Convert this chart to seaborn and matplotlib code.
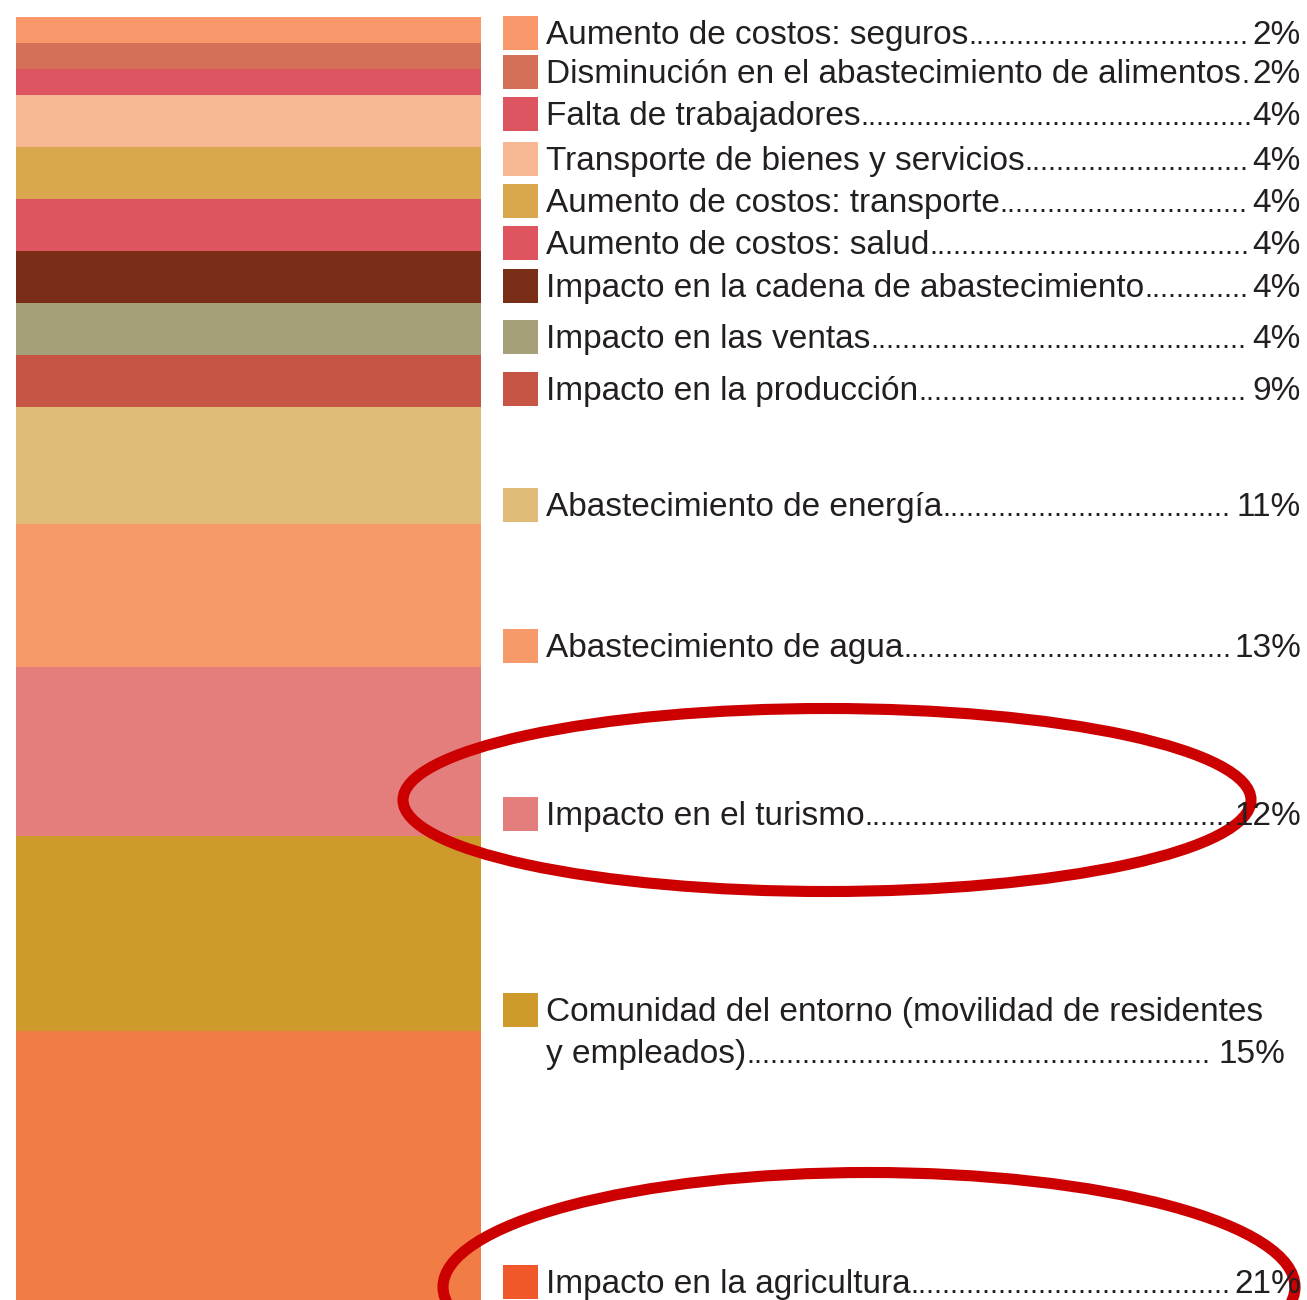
import numpy as np
import matplotlib
matplotlib.use("Agg")
from matplotlib import pyplot as plt
from matplotlib.patches import Rectangle, Ellipse
import seaborn as sns

sns.set_theme(style="white")
plt.rcParams['font.family'] = ['Liberation Sans', 'DejaVu Sans']

# 数据：从上到下的各段
labels = [
    "Aumento de costos: seguros",
    "Disminución en el abastecimiento de alimentos",
    "Falta de trabajadores",
    "Transporte de bienes y servicios",
    "Aumento de costos: transporte",
    "Aumento de costos: salud",
    "Impacto en la cadena de abastecimiento",
    "Impacto en las ventas",
    "Impacto en la producción",
    "Abastecimiento de energía",
    "Abastecimiento de agua",
    "Impacto en el turismo",
    "Comunidad del entorno (movilidad de residentes\ny empleados)",
    "Impacto en la agricultura",
]
pct_labels = ["2%", "2%", "4%", "4%", "4%", "4%", "4%", "4%", "9%",
              "11%", "13%", "12%", "15%", "21%"]
bar_values = [2, 2, 2, 4, 4, 4, 4, 4, 4, 9, 11, 13, 15, 21]
colors = ["#F7976A", "#D46F58", "#DD5560", "#F9B894", "#D9A84E", "#DE5560",
          "#7A2E17", "#A59F7A", "#C65546", "#E0BC78", "#F79A6A", "#E37E7C",
          "#CE9A2B", "#F27C45"]
legend_colors = colors[:-1] + ["#F0582A"]

# 版面（像素）
W, H = 1307, 1300
row_y = [33, 72, 114, 159, 201, 243, 286, 337, 389, 505, 646, 814, 1010, 1282]
line_gap = 42
text_x = 546
pct_right = 1301
fs = 24
text_color = "#231F20"

fig = plt.figure(figsize=(W / 100, H / 100), dpi=100)
fig.patch.set_facecolor("white")

# 堆叠柱：从最大累计值开始叠画
ax = fig.add_axes([16 / W, 0, (481 - 16) / W, (H - 17) / H])
cum = np.cumsum(bar_values)
for i in reversed(range(len(bar_values))):
    sns.barplot(x=["bar"], y=[cum[i]], color=colors[i], saturation=1,
                width=1.0, linewidth=0, ax=ax)
ax.set_xlim(-0.5, 0.5)
ax.set_ylim(cum[-1] - 0.3, 0)
ax.axis("off")

# 图例 + 点线
ov = fig.add_axes([0, 0, 1, 1])
ov.set_xlim(0, W)
ov.set_ylim(H, 0)
ov.axis("off")

renderer = fig.canvas.get_renderer()
dot_fs = fs * 0.85
dot_t = ov.text(0, -100, "." * 20, fontsize=dot_fs)
dot_w = dot_t.get_window_extent(renderer).width / 20
dot_t.remove()

for lab, pct, c, y in zip(labels, pct_labels, legend_colors, row_y):
    ov.add_patch(Rectangle((503, y - 17), 35, 34, color=c, lw=0))
    lines = lab.split("\n")
    for j, ln in enumerate(lines[:-1]):
        ov.text(text_x, y + 11 + j * line_gap, ln, fontsize=fs,
                color=text_color, va="baseline", ha="left")
    yb = y + 11 + (len(lines) - 1) * line_gap
    right = pct_right if len(lines) == 1 else 1285
    t1 = ov.text(text_x, yb, lines[-1], fontsize=fs, color=text_color,
                 va="baseline", ha="left")
    t2 = ov.text(right, yb, pct, fontsize=fs, color=text_color,
                 va="baseline", ha="right")
    x1 = t1.get_window_extent(renderer).x1
    x0 = t2.get_window_extent(renderer).x0
    n = max(int((x0 - x1) / dot_w), 0)
    ov.text(x1, yb, "." * n, fontsize=dot_fs, color=text_color,
            va="baseline", ha="left")

# 红色椭圆标注
ov.add_patch(Ellipse((827, 800), 848, 183, fill=False, ec="#CC0000", lw=8))
ov.add_patch(Ellipse((869, 1287), 852, 229, fill=False, ec="#CC0000", lw=8))

fig.savefig("out.png", dpi=100)
